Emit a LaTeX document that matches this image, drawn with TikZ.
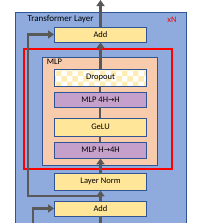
\documentclass[tikz,border=0pt]{standalone}
\usepackage{fontspec}
\setmainfont{Carlito}
\newfontfamily\arrowfont{DejaVu Sans}
\usetikzlibrary{arrows.meta,positioning,calc,patterns}
\definecolor{layerblue}{HTML}{8FAADC}
\definecolor{edgeblue}{HTML}{2F5597}
\definecolor{addyellow}{HTML}{FFE699}
\definecolor{mlporange}{HTML}{F8CBAD}
\definecolor{projpurple}{HTML}{C5A0CA}
\definecolor{flowgray}{HTML}{595959}
\newcommand{\rarr}{{\arrowfont\fontsize{7.5}{8}\selectfont →}}

\begin{document}
\begin{tikzpicture}[x=1pt, y=-1pt,
  blk/.style={draw=edgeblue, line width=0.8pt, minimum width=92pt,
              minimum height=16pt, inner sep=0pt, font=\fontsize{8.5}{9}\selectfont},
  flow/.style={draw=flowgray, line width=2.8pt},
  stub/.style={draw=flowgray, line width=2pt},
  flowarr/.style={flow, -{Triangle[length=6pt,width=8pt]}}]
  \useasboundingbox (0,0) rectangle (200,223);

  % transformer layer frame
  \draw[edgeblue, line width=0.8pt, fill=layerblue] (15,12) rectangle (186,240);
  \node[anchor=west, font=\fontsize{9}{10}\selectfont] (title) at (24,19) {Transformer Layer};
  \node[font=\fontsize{8.5}{9}\selectfont, text=red] (reps) at (172,20) {xN};

  \node[blk, fill=addyellow, minimum height=15pt] (addtop) at (100.5,34.5) {Add};

  % MLP block
  \draw[red, line width=1.6pt] (24,49) rectangle (172,169);
  \node[draw=edgeblue, line width=0.8pt, fill=mlporange, minimum width=115pt,
        minimum height=108pt] (mlp) at (99.5,111) {};
  \node[anchor=north west, inner sep=1pt, font=\fontsize{8.5}{9}\selectfont] (mlplabel)
        at ($(mlp.north west)+(4,1)$) {MLP};
  \node[blk, preaction={fill=white}, pattern=checkerboard, pattern color=addyellow!75,
        minimum height=17pt] (drop) at (100.5,77.5) {Dropout};
  \node[blk, fill=projpurple, minimum height=15pt] (down) at (100.5,99.5) {MLP 4H\rarr H};
  \node[blk, fill=addyellow, minimum height=18pt] (gelu) at (100.5,127) {GeLU};
  \node[blk, fill=projpurple] (up) at (100.5,150) {MLP H\rarr 4H};

  \node[blk, fill=addyellow, minimum height=17pt] (ln) at (100.5,181.5) {Layer Norm};
  \node[blk, fill=addyellow, minimum height=15pt] (addbot) at (100.5,208.5) {Add};

  % connectors
  \coordinate (inmain) at (100.5,226);
  \coordinate (inres) at (33,226);
  \coordinate (split) at (100.5,196);
  \coordinate (resleft) at (28,196);
  \coordinate (out) at (100.5,0);
  \draw[flow] (inmain) -- (addbot.south);
  \draw[flowarr] (inres) |- (addbot.west);
  \draw[flowarr] (addbot.north) -- (ln.south);
  \draw[flowarr] (split) -- (resleft) |- (addtop.west);
  \draw[flowarr] (ln.north) -- (up.south);
  \draw[stub] (up.north) -- (gelu.south);
  \draw[stub] (gelu.north) -- (down.south);
  \draw[stub] (down.north) -- (drop.south);
  \draw[flowarr] (drop.north) -- (addtop.south);
  \draw[flowarr] (addtop.north) -- (out);
\end{tikzpicture}
\end{document}
